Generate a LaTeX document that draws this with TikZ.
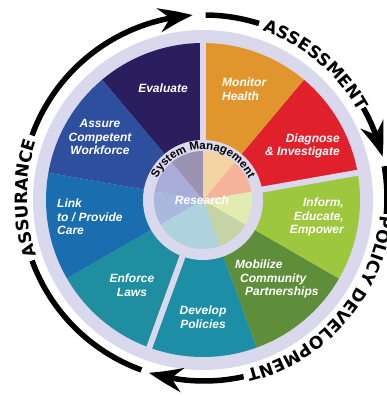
\documentclass[tikz,border=0pt]{standalone}
\usepackage{fontspec}
\setmainfont{Liberation Sans}
\newfontfamily\arcfont{DejaVu Sans}
\usetikzlibrary{arrows.meta,bending,decorations.text}

\definecolor{lav}{HTML}{DAD8EC}
\definecolor{evalc}{HTML}{2B1E5E}
\definecolor{assurec}{HTML}{2E4E9E}
\definecolor{linkc}{HTML}{1A6DAE}
\definecolor{enforcec}{HTML}{1E8EA0}
\definecolor{developc}{HTML}{1C8FA6}
\definecolor{mobilc}{HTML}{5E8E3A}
\definecolor{informc}{HTML}{9DC73C}
\definecolor{diagc}{HTML}{E0202B}
\definecolor{monc}{HTML}{E0962C}
\definecolor{evalt}{HTML}{9A93B3}
\definecolor{assuret}{HTML}{A9ABD8}
\definecolor{linkt}{HTML}{A9B8DE}
\definecolor{enforcet}{HTML}{AED3DF}
\definecolor{developt}{HTML}{AED3DF}
\definecolor{mobilt}{HTML}{C6D3A6}
\definecolor{informt}{HTML}{E3ECB0}
\definecolor{diagt}{HTML}{F4B39A}
\definecolor{mont}{HTML}{F4D3A2}

\begin{document}
\begin{tikzpicture}[x=1pt,y=1pt,
  seglabel/.style={text=white, font=\bfseries\itshape\fontsize{12}{13.5}\selectfont, align=center, inner sep=0pt},
  cycarc/.style={line width=5.5pt, draw=black},
  tipped/.style={-{Stealth[length=34pt,width=24pt,inset=11pt,bend]}},
  gapline/.style={draw=lav, line width=6pt},
  arctext/.style={decorate, decoration={text along path, text align=center, text={|\arcfont\bfseries\fontsize{17}{17}\selectfont|#1}}},
  hubtext/.style={decorate, decoration={text along path, text align=center, text={|\bfseries\fontsize{11.5}{12}\selectfont|#1}}}
]
\useasboundingbox (-203,-196) rectangle (184,200);

% outer lavender ring
\fill[lav] (0,0) circle[radius=170];

% coloured sectors
\foreach \a/\b/\c in {90/130/evalc, 130/170/assurec, 170/210/linkc, 210/250/enforcec,
  250/290/developc, 290/330/mobilc, 330/370/informc, 10/50/diagc, 50/90/monc}{
  \fill[\c] (0,0) -- (\a:157) arc[start angle=\a, end angle=\b, radius=157] -- cycle;
}

% lavender gaps between the three groups
\foreach \g in {90,10,250}{
  \path[gapline] (\g:55) -- (\g:160);
}

% hub
\fill[lav] (0,0) circle[radius=60];
\foreach \a/\b/\c in {90/130/evalt, 130/170/assuret, 170/210/linkt, 210/250/enforcet,
  250/290/developt, 290/330/mobilt, 330/370/informt, 10/50/diagt, 50/90/mont}{
  \fill[\c] (0,0) -- (\a:49) arc[start angle=\a, end angle=\b, radius=49] -- cycle;
}

\path[hubtext={System Management}] (170:50.5) arc[start angle=170, end angle=10, radius=50.5];
\node[seglabel] (research) at (-1,0) {Research};

% segment labels
\node[seglabel] (evaluate) at (-40,112) {Evaluate};
\node[seglabel, anchor=west, align=left] (monitor) at (19,111) {Monitor\\Health};
\node[seglabel, anchor=east, align=right] (diagnose) at (137,54) {Diagnose\\\& Investigate};
\node[seglabel, anchor=east, align=right] (inform) at (141,-17) {Inform,\\Educate,\\Empower};
\node[seglabel, anchor=west, align=left] (mobilize) at (32,-79) {Mobilize\\\hspace*{5pt}Community\\\hspace*{10pt}Partnerships};
\node[seglabel] (develop) at (0,-117) {Develop\\Policies};
\node[seglabel] (enforce) at (-71,-85) {Enforce\\Laws};
\node[seglabel, anchor=west, align=left] (link) at (-146,-17) {Link\\to / Provide\\Care};
\node[seglabel] (assure) at (-103,63) {Assure\\Competent\\Workforce};

\begin{scope}[shift={(1,2)}]
% outer cycle: ASSESSMENT
\draw[cycarc] (89.5:183) arc[start angle=89.5, end angle=72.5, radius=183];
\path[arctext={ASSESSMENT}] (80:177) arc[start angle=80, end angle=20, radius=177];
\draw[cycarc, tipped] (29.5:183) arc[start angle=29.5, end angle=13, radius=183];

% outer cycle: POLICY DEVELOPMENT
\draw[cycarc] (10:183) arc[start angle=10, end angle=-5, radius=183];
\path[arctext={POLICY DEVELOPMENT}] (0:177) arc[start angle=0, end angle=-82, radius=177];
\draw[cycarc, tipped] (-77.5:183) arc[start angle=-77.5, end angle=-107.5, radius=183];

% outer cycle: ASSURANCE
\draw[cycarc] (250:183) arc[start angle=250, end angle=200, radius=183];
\path[arctext={ASSURANCE}] (215:177) arc[start angle=215, end angle=145, radius=177];
\draw[cycarc, tipped] (160:183) arc[start angle=160, end angle=93.5, radius=183];
\end{scope}
\end{tikzpicture}
\end{document}
